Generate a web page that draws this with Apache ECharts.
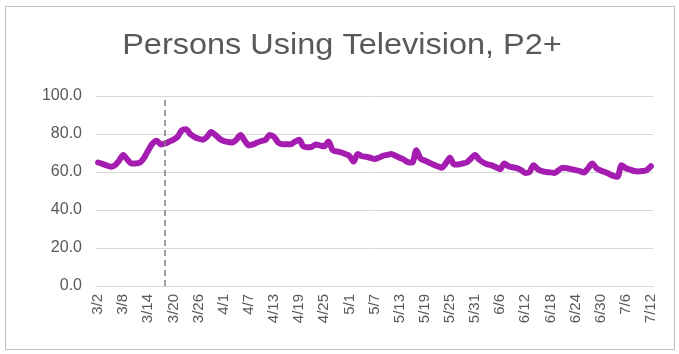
<!DOCTYPE html>
<html>
<head>
<meta charset="utf-8">
<script src="https://cdn.jsdelivr.net/npm/echarts@6/dist/echarts.min.js"></script>
<style>
  html, body { margin: 0; padding: 0; background: #fff; }
  #chart { width: 679px; height: 354px; }
</style>
</head>
<body>
<div id="chart"></div>
<script>
// daily dates 3/2 .. 7/12
const monthDays = [[3, 2, 31], [4, 1, 30], [5, 1, 31], [6, 1, 30], [7, 1, 12]];
const categories = [];
monthDays.forEach(([m, from, to]) => {
  for (let d = from; d <= to; d++) categories.push(m + "/" + d);
});

// PUT, persons 2+
const putValues = [
  65, 64.3, 63.5, 62.8, 63.5, 66, 69, 66.5, 64.5, 64.5,
  65, 67.5, 71.5, 75, 76.5, 74.5, 75, 76, 77, 78.5,
  82, 82.5, 80, 78.5, 77.5, 77, 78.5, 81, 79.5, 77.5,
  76.3, 75.8, 75.5, 77, 79.5, 76.5, 74, 74.5, 75.5, 76.3,
  77, 79.5, 78.5, 75.5, 74.6, 74.6, 74.6, 76, 77, 73.5,
  73, 73.2, 74.5, 74, 73.5, 76, 71.5, 70.8, 70.3, 69.5,
  68.5, 65.5, 69.5, 68.3, 68, 67.5, 66.8, 67.5, 68.5, 69,
  69.5, 68.5, 67.5, 66.5, 65.2, 65, 71.5, 67, 66, 65,
  64, 63, 62.3, 64.5, 67.5, 64, 64, 64.5, 65, 67,
  69, 66.5, 65, 64, 63.5, 62.5, 61.5, 64.5, 63, 62.5,
  62, 61, 59.5, 60, 63.5, 61.5, 60.5, 60, 59.8, 59.5,
  61, 62.3, 62, 61.5, 61, 60.5, 59.8, 62, 64.5, 62,
  60.8, 60, 59, 58, 57.5, 63.5, 62, 61.3, 60.5, 60.3,
  60.5, 61, 63
];

const markerDate = "3/18";
const yTicks = { min: 0, max: 100, step: 20 };
const titleText = "Persons Using Television, P2+";
const font = "Liberation Sans, Arial, sans-serif";

let myChart = echarts.init(document.getElementById("chart"));
myChart.setOption({
  animation: false,
  textStyle: { fontFamily: font },
  graphic: [
    {
      type: "rect",
      shape: { x: 5.5, y: 6.5, width: 669, height: 343 },
      style: { fill: "none", stroke: "#bfbfbf", lineWidth: 1 },
      silent: true
    },
    {
      // title, a little wider than tall as in the original
      type: "text",
      x: 342,
      y: 46,
      scaleX: 1.12,
      silent: true,
      style: {
        text: titleText,
        fill: "#595959",
        font: "29px " + font,
        align: "center",
        verticalAlign: "middle"
      }
    }
  ],
  grid: {
    left: 96,
    right: 26,
    top: 96,
    bottom: 68
  },
  xAxis: {
    type: "category",
    data: categories,
    boundaryGap: true,
    axisLine: { lineStyle: { color: "#d9d9d9", width: 1 } },
    axisTick: { show: false },
    axisLabel: {
      interval: 5,
      rotate: 90,
      color: "#595959",
      fontSize: 15,
      margin: 8
    }
  },
  yAxis: {
    type: "value",
    min: yTicks.min,
    max: yTicks.max,
    interval: yTicks.step,
    axisLine: { show: false },
    axisTick: { show: false },
    splitLine: { lineStyle: { color: "#d9d9d9", width: 1 } },
    axisLabel: {
      color: "#595959",
      fontSize: 16,
      margin: 14,
      formatter: v => v.toFixed(1)
    }
  },
  series: [
    {
      name: "PUT",
      type: "line",
      data: putValues,
      symbol: "none",
      smooth: 0.3,
      lineStyle: { color: "#a41db0", width: 6, cap: "round", join: "round" },
      markLine: {
        silent: true,
        symbol: "none",
        label: { show: false },
        lineStyle: { color: "#7f7f7f", type: [6, 4], width: 1.5 },
        data: [{ xAxis: markerDate }]
      }
    }
  ]
});
</script>
</body>
</html>
